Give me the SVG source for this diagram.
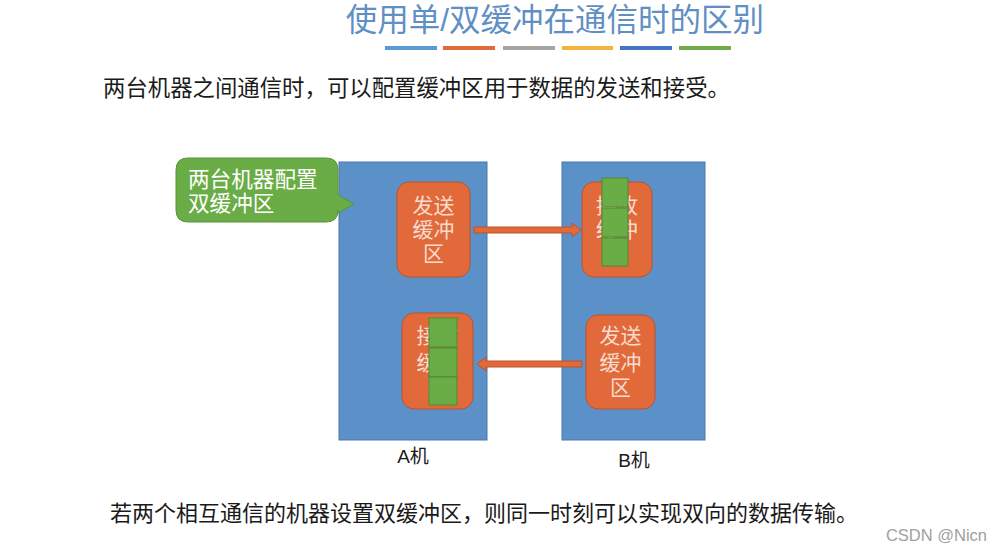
<svg xmlns="http://www.w3.org/2000/svg" width="992" height="556" viewBox="0 0 992 556">
<style>
.cn{font-family:"Liberation Sans","Noto Sans CJK SC",sans-serif}
.machine{fill:#5b90c9;stroke:#4a78aa;stroke-width:1}
.buf{fill:#e2693a;stroke:#b8552e;stroke-width:1}
.buftxt{fill:#f6dccf;font-size:21px;text-anchor:middle}
.pkt{fill:#6aac45;stroke:#4f8a33;stroke-width:1}
.arrow{fill:#e2693a;stroke:#b8552e;stroke-width:1}
</style>
<rect width="992" height="556" fill="#ffffff"/>
<g id="title">
<text class="cn" x="555" y="31" font-size="31.5" fill="#5f8fc4" text-anchor="middle">使用单/双缓冲在通信时的区别</text>
<rect x="385" y="46" width="52" height="4" fill="#5b9bd5"/>
<rect x="443" y="46" width="52" height="4" fill="#e2693a"/>
<rect x="503" y="46" width="52" height="4" fill="#a5a5a5"/>
<rect x="562" y="46" width="51" height="4" fill="#f2b43c"/>
<rect x="620" y="46" width="52" height="4" fill="#4472c4"/>
<rect x="679" y="46" width="52" height="4" fill="#70ad47"/>
</g>
<text class="cn" x="103" y="96" font-size="22.4" fill="#1a1a1a">两台机器之间通信时，可以配置缓冲区用于数据的发送和接受。</text>
<g id="machineA">
<rect class="machine" x="339" y="162" width="148" height="278"/>
<text class="cn" x="413" y="463" font-size="19" fill="#1a1a1a" text-anchor="middle">A机</text>
</g>
<g id="machineB">
<rect class="machine" x="562" y="162" width="143" height="278"/>
<text class="cn" x="634" y="467" font-size="19" fill="#1a1a1a" text-anchor="middle">B机</text>
</g>
<g id="bubble">
<path d="M188,158 H326 Q338,158 338,170 V195 L354,204 L338,213 V210 Q338,222 326,222 H188 Q176,222 176,210 V170 Q176,158 188,158 Z" fill="#6aac45" stroke="#58943a" stroke-width="1"/>
<text class="cn" x="188" y="187" font-size="21.6" fill="#ffffff">两台机器配置</text>
<text class="cn" x="188" y="211" font-size="21.6" fill="#ffffff">双缓冲区</text>
</g>
<g id="sendA">
<rect class="buf" x="397" y="182" width="73" height="95" rx="12"/>
<text class="cn buftxt" x="433.5" y="213">发送</text>
<text class="cn buftxt" x="433.5" y="237">缓冲</text>
<text class="cn buftxt" x="433.5" y="261">区</text>
</g>
<g id="recvB">
<rect class="buf" x="582" y="182" width="70" height="95" rx="12"/>
<text class="cn buftxt" x="617" y="213">接收</text>
<text class="cn buftxt" x="617" y="237">缓冲</text>
<text class="cn buftxt" x="617" y="261">区</text>
<rect class="pkt" x="602" y="178" width="26" height="29"/>
<rect class="pkt" x="602" y="208" width="26" height="29"/>
<rect class="pkt" x="602" y="238" width="26" height="28"/>
</g>
<g id="recvA">
<rect class="buf" x="402" y="313" width="71" height="96" rx="12"/>
<text class="cn buftxt" x="437.5" y="343">接收</text>
<text class="cn buftxt" x="437.5" y="370">缓冲</text>
<text class="cn buftxt" x="437.5" y="395">区</text>
<rect class="pkt" x="429" y="318" width="28" height="29"/>
<rect class="pkt" x="429" y="348" width="28" height="29"/>
<rect class="pkt" x="429" y="377" width="28" height="28"/>
</g>
<g id="sendB">
<rect class="buf" x="586" y="315" width="69" height="94" rx="12"/>
<text class="cn buftxt" x="620.5" y="343">发送</text>
<text class="cn buftxt" x="620.5" y="370">缓冲</text>
<text class="cn buftxt" x="620.5" y="395">区</text>
</g>
<g id="connectors">
<path class="arrow" d="M474,227 H572 V223 L581,230 L572,237 V233 H474 Z"/>
<path class="arrow" d="M582,361 H486 V357 L477,364 L486,371 V367 H582 Z"/>
</g>
<text class="cn" x="110" y="521" font-size="22" fill="#1a1a1a">若两个相互通信的机器设置双缓冲区，则同一时刻可以实现双向的数据传输。</text>
<text x="987" y="541" font-family="Liberation Sans, sans-serif" font-size="16.5" fill="#a0a0a0" text-anchor="end">CSDN @Nicn</text>
</svg>
